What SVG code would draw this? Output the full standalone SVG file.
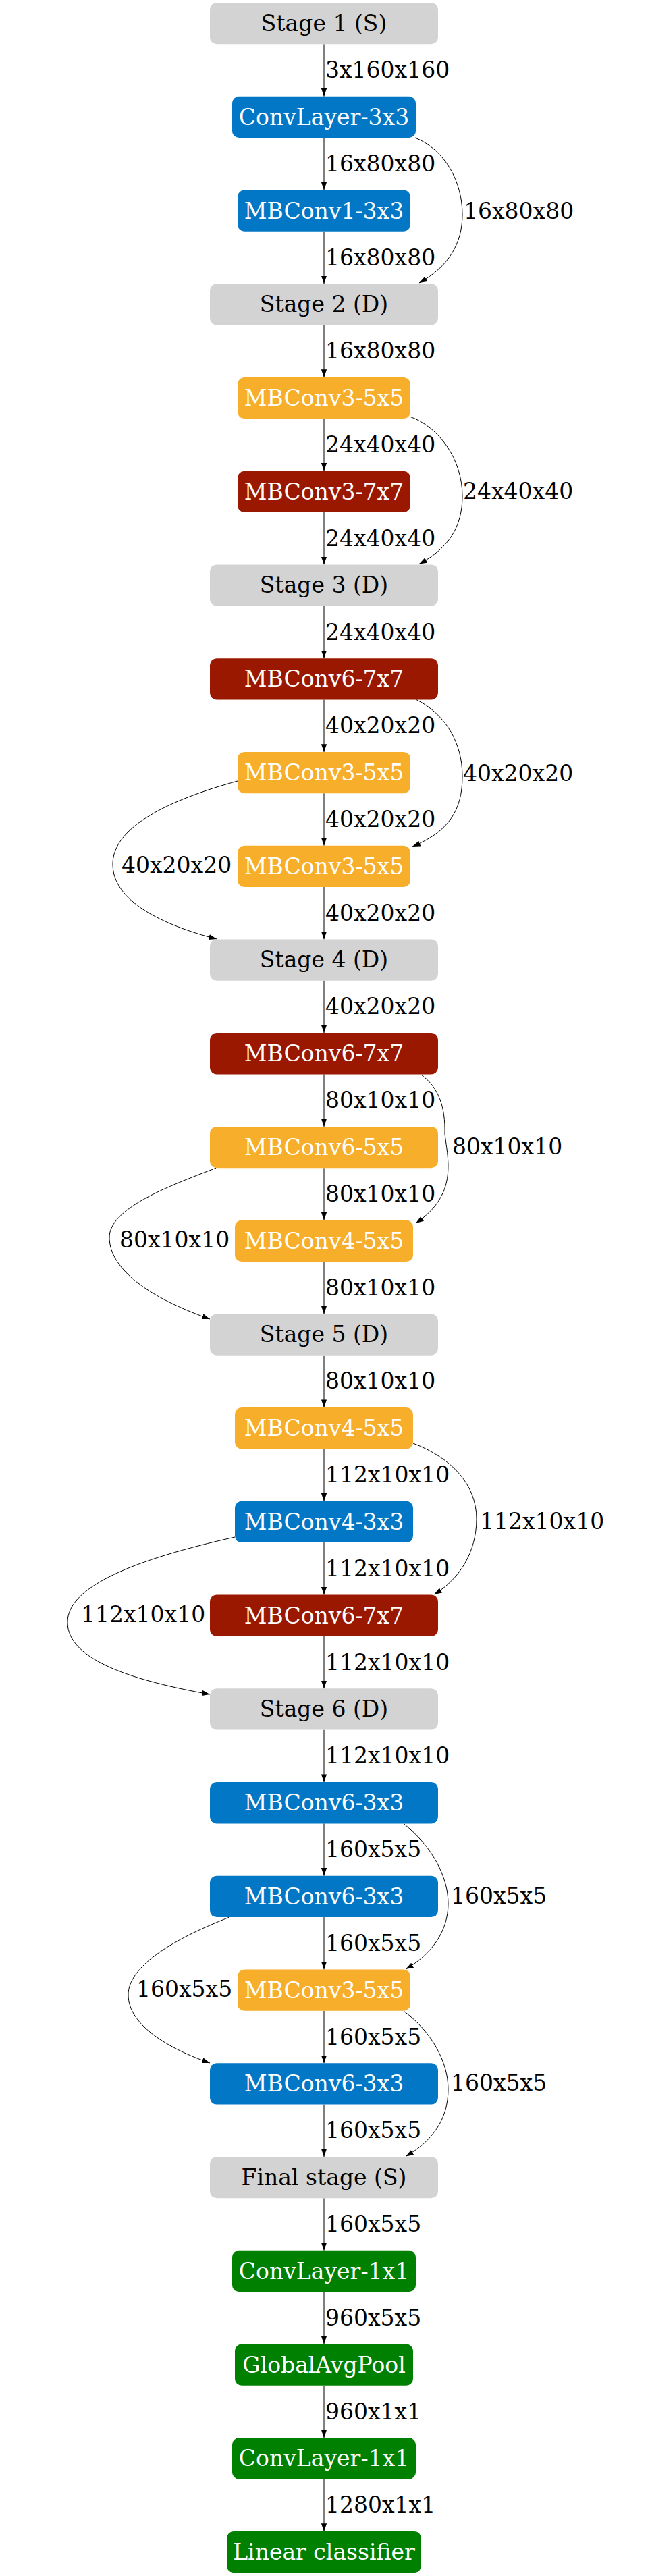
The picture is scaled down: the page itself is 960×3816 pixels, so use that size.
<svg xmlns="http://www.w3.org/2000/svg" width="960" height="3816" viewBox="0 0 960 3816">
<style>
.n{stroke:none}
.g{fill:#D3D3D3}.b{fill:#0277C6}.o{fill:#F7AE2A}.r{fill:#9A1700}.gr{fill:#008000}
.t{font-family:"DejaVu Serif",serif;font-size:33px;text-anchor:middle}
.tw{fill:#FFFFFF}.tb{fill:#000000}
.l{font-family:"DejaVu Serif",serif;font-size:33px;fill:#000000}
.e{fill:none;stroke:#000000;stroke-width:1}
</style>
<defs>
<marker id="ah" markerUnits="userSpaceOnUse" markerWidth="12" markerHeight="9" refX="11.7" refY="4.1" orient="auto">
<path d="M0,0 L11.7,4.1 L0,8.2 z" fill="#000000"/>
</marker>
</defs>
<rect width="960" height="3816" fill="#FFFFFF"/>
<g id="connectors">
<path class="e" marker-end="url(#ah)" d="M480,65.3 V142.7"/>
<path class="e" marker-end="url(#ah)" d="M480,204.0 V281.5"/>
<path class="e" marker-end="url(#ah)" d="M480,342.8 V420.2"/>
<path class="e" marker-end="url(#ah)" d="M480,481.5 V559.0"/>
<path class="e" marker-end="url(#ah)" d="M480,620.3 V697.7"/>
<path class="e" marker-end="url(#ah)" d="M480,759.0 V836.4"/>
<path class="e" marker-end="url(#ah)" d="M480,897.7 V975.2"/>
<path class="e" marker-end="url(#ah)" d="M480,1036.5 V1113.9"/>
<path class="e" marker-end="url(#ah)" d="M480,1175.2 V1252.7"/>
<path class="e" marker-end="url(#ah)" d="M480,1314.0 V1391.4"/>
<path class="e" marker-end="url(#ah)" d="M480,1452.7 V1530.1"/>
<path class="e" marker-end="url(#ah)" d="M480,1591.4 V1668.9"/>
<path class="e" marker-end="url(#ah)" d="M480,1730.2 V1807.6"/>
<path class="e" marker-end="url(#ah)" d="M480,1868.9 V1946.4"/>
<path class="e" marker-end="url(#ah)" d="M480,2007.7 V2085.1"/>
<path class="e" marker-end="url(#ah)" d="M480,2146.4 V2223.8"/>
<path class="e" marker-end="url(#ah)" d="M480,2285.1 V2362.6"/>
<path class="e" marker-end="url(#ah)" d="M480,2423.9 V2501.3"/>
<path class="e" marker-end="url(#ah)" d="M480,2562.6 V2640.1"/>
<path class="e" marker-end="url(#ah)" d="M480,2701.4 V2778.8"/>
<path class="e" marker-end="url(#ah)" d="M480,2840.1 V2917.5"/>
<path class="e" marker-end="url(#ah)" d="M480,2978.8 V3056.3"/>
<path class="e" marker-end="url(#ah)" d="M480,3117.6 V3195.0"/>
<path class="e" marker-end="url(#ah)" d="M480,3256.3 V3333.8"/>
<path class="e" marker-end="url(#ah)" d="M480,3395.1 V3472.5"/>
<path class="e" marker-end="url(#ah)" d="M480,3533.8 V3611.2"/>
<path class="e" marker-end="url(#ah)" d="M480,3672.5 V3750.0"/>
<path class="e" marker-end="url(#ah)" d="M615,204 C660,222 685,270 685,318 C685,360 665,395 621,419"/>
<path class="e" marker-end="url(#ah)" d="M607,617 C650,632 685,680 685,735 C685,780 665,812 621,835.5"/>
<path class="e" marker-end="url(#ah)" d="M617,1036.5 C660,1058 685,1100 685,1150 C685,1200 665,1232 611,1254"/>
<path class="e" marker-end="url(#ah)" d="M352,1157 C250,1185 167,1225 167,1280 C167,1335 240,1370 321,1391"/>
<path class="e" marker-end="url(#ah)" d="M623,1591.4 C650,1610 660,1640 659,1680 C664,1720 678,1770 616,1812"/>
<path class="e" marker-end="url(#ah)" d="M320,1730.2 C250,1757 162,1790 162,1833 C162,1870 200,1915 311,1954"/>
<path class="e" marker-end="url(#ah)" d="M612,2138 C670,2160 706,2200 706,2250 C706,2300 680,2340 643,2362"/>
<path class="e" marker-end="url(#ah)" d="M348,2277 C200,2310 100,2350 100,2403 C100,2460 200,2490 311,2510"/>
<path class="e" marker-end="url(#ah)" d="M598,2701.4 C640,2735 664,2780 664,2820 C664,2860 640,2895 601,2917"/>
<path class="e" marker-end="url(#ah)" d="M340,2840 C250,2875 190,2915 190,2955 C190,3000 250,3035 311,3056"/>
<path class="e" marker-end="url(#ah)" d="M598,2979 C640,3010 664,3055 664,3095 C664,3140 640,3172 601,3194.5"/>
<text class="l" x="482" y="115.0">3x160x160</text>
<text class="l" x="482" y="253.8">16x80x80</text>
<text class="l" x="482" y="392.5">16x80x80</text>
<text class="l" x="482" y="531.3">16x80x80</text>
<text class="l" x="482" y="670.0">24x40x40</text>
<text class="l" x="482" y="808.7">24x40x40</text>
<text class="l" x="482" y="947.5">24x40x40</text>
<text class="l" x="482" y="1086.2">40x20x20</text>
<text class="l" x="482" y="1225.0">40x20x20</text>
<text class="l" x="482" y="1363.7">40x20x20</text>
<text class="l" x="482" y="1502.4">40x20x20</text>
<text class="l" x="482" y="1641.2">80x10x10</text>
<text class="l" x="482" y="1779.9">80x10x10</text>
<text class="l" x="482" y="1918.7">80x10x10</text>
<text class="l" x="482" y="2057.4">80x10x10</text>
<text class="l" x="482" y="2196.1">112x10x10</text>
<text class="l" x="482" y="2334.9">112x10x10</text>
<text class="l" x="482" y="2473.6">112x10x10</text>
<text class="l" x="482" y="2612.4">112x10x10</text>
<text class="l" x="482" y="2751.1">160x5x5</text>
<text class="l" x="482" y="2889.8">160x5x5</text>
<text class="l" x="482" y="3028.6">160x5x5</text>
<text class="l" x="482" y="3167.3">160x5x5</text>
<text class="l" x="482" y="3306.1">160x5x5</text>
<text class="l" x="482" y="3444.8">960x5x5</text>
<text class="l" x="482" y="3583.5">960x1x1</text>
<text class="l" x="482" y="3722.3">1280x1x1</text>
<text class="l" x="687" y="324">16x80x80</text>
<text class="l" x="686" y="739">24x40x40</text>
<text class="l" x="686" y="1157">40x20x20</text>
<text class="l" x="180" y="1293">40x20x20</text>
<text class="l" x="670" y="1710">80x10x10</text>
<text class="l" x="177" y="1848">80x10x10</text>
<text class="l" x="711" y="2265">112x10x10</text>
<text class="l" x="120" y="2403">112x10x10</text>
<text class="l" x="668" y="2820">160x5x5</text>
<text class="l" x="202" y="2958">160x5x5</text>
<text class="l" x="668" y="3097">160x5x5</text>
</g>
<g id="n0"><rect class="n g" x="311" y="4" width="338" height="61.3" rx="10"/><text class="t tb" x="480" y="46">Stage 1 (S)</text></g>
<g id="n1"><rect class="n b" x="344" y="142.7" width="272" height="61.3" rx="10"/><text class="t tw" x="480" y="184.7">ConvLayer-3x3</text></g>
<g id="n2"><rect class="n b" x="352" y="281.5" width="256" height="61.3" rx="10"/><text class="t tw" x="480" y="323.5">MBConv1-3x3</text></g>
<g id="n3"><rect class="n g" x="311" y="420.2" width="338" height="61.3" rx="10"/><text class="t tb" x="480" y="462.2">Stage 2 (D)</text></g>
<g id="n4"><rect class="n o" x="352" y="559.0" width="256" height="61.3" rx="10"/><text class="t tw" x="480" y="601.0">MBConv3-5x5</text></g>
<g id="n5"><rect class="n r" x="352" y="697.7" width="256" height="61.3" rx="10"/><text class="t tw" x="480" y="739.7">MBConv3-7x7</text></g>
<g id="n6"><rect class="n g" x="311" y="836.4" width="338" height="61.3" rx="10"/><text class="t tb" x="480" y="878.4">Stage 3 (D)</text></g>
<g id="n7"><rect class="n r" x="311" y="975.2" width="338" height="61.3" rx="10"/><text class="t tw" x="480" y="1017.2">MBConv6-7x7</text></g>
<g id="n8"><rect class="n o" x="352" y="1113.9" width="256" height="61.3" rx="10"/><text class="t tw" x="480" y="1155.9">MBConv3-5x5</text></g>
<g id="n9"><rect class="n o" x="352" y="1252.7" width="256" height="61.3" rx="10"/><text class="t tw" x="480" y="1294.7">MBConv3-5x5</text></g>
<g id="n10"><rect class="n g" x="311" y="1391.4" width="338" height="61.3" rx="10"/><text class="t tb" x="480" y="1433.4">Stage 4 (D)</text></g>
<g id="n11"><rect class="n r" x="311" y="1530.1" width="338" height="61.3" rx="10"/><text class="t tw" x="480" y="1572.1">MBConv6-7x7</text></g>
<g id="n12"><rect class="n o" x="311" y="1668.9" width="338" height="61.3" rx="10"/><text class="t tw" x="480" y="1710.9">MBConv6-5x5</text></g>
<g id="n13"><rect class="n o" x="348" y="1807.6" width="264" height="61.3" rx="10"/><text class="t tw" x="480" y="1849.6">MBConv4-5x5</text></g>
<g id="n14"><rect class="n g" x="311" y="1946.4" width="338" height="61.3" rx="10"/><text class="t tb" x="480" y="1988.4">Stage 5 (D)</text></g>
<g id="n15"><rect class="n o" x="348" y="2085.1" width="264" height="61.3" rx="10"/><text class="t tw" x="480" y="2127.1">MBConv4-5x5</text></g>
<g id="n16"><rect class="n b" x="348" y="2223.8" width="264" height="61.3" rx="10"/><text class="t tw" x="480" y="2265.8">MBConv4-3x3</text></g>
<g id="n17"><rect class="n r" x="311" y="2362.6" width="338" height="61.3" rx="10"/><text class="t tw" x="480" y="2404.6">MBConv6-7x7</text></g>
<g id="n18"><rect class="n g" x="311" y="2501.3" width="338" height="61.3" rx="10"/><text class="t tb" x="480" y="2543.3">Stage 6 (D)</text></g>
<g id="n19"><rect class="n b" x="311" y="2640.1" width="338" height="61.3" rx="10"/><text class="t tw" x="480" y="2682.1">MBConv6-3x3</text></g>
<g id="n20"><rect class="n b" x="311" y="2778.8" width="338" height="61.3" rx="10"/><text class="t tw" x="480" y="2820.8">MBConv6-3x3</text></g>
<g id="n21"><rect class="n o" x="352" y="2917.5" width="256" height="61.3" rx="10"/><text class="t tw" x="480" y="2959.5">MBConv3-5x5</text></g>
<g id="n22"><rect class="n b" x="311" y="3056.3" width="338" height="61.3" rx="10"/><text class="t tw" x="480" y="3098.3">MBConv6-3x3</text></g>
<g id="n23"><rect class="n g" x="311" y="3195.0" width="338" height="61.3" rx="10"/><text class="t tb" x="480" y="3237.0">Final stage (S)</text></g>
<g id="n24"><rect class="n gr" x="344" y="3333.8" width="272" height="61.3" rx="10"/><text class="t tw" x="480" y="3375.8">ConvLayer-1x1</text></g>
<g id="n25"><rect class="n gr" x="348" y="3472.5" width="264" height="61.3" rx="10"/><text class="t tw" x="480" y="3514.5">GlobalAvgPool</text></g>
<g id="n26"><rect class="n gr" x="344" y="3611.2" width="272" height="61.3" rx="10"/><text class="t tw" x="480" y="3653.2">ConvLayer-1x1</text></g>
<g id="n27"><rect class="n gr" x="336" y="3750.0" width="288" height="61.3" rx="10"/><text class="t tw" x="480" y="3792.0">Linear classifier</text></g>
</svg>
